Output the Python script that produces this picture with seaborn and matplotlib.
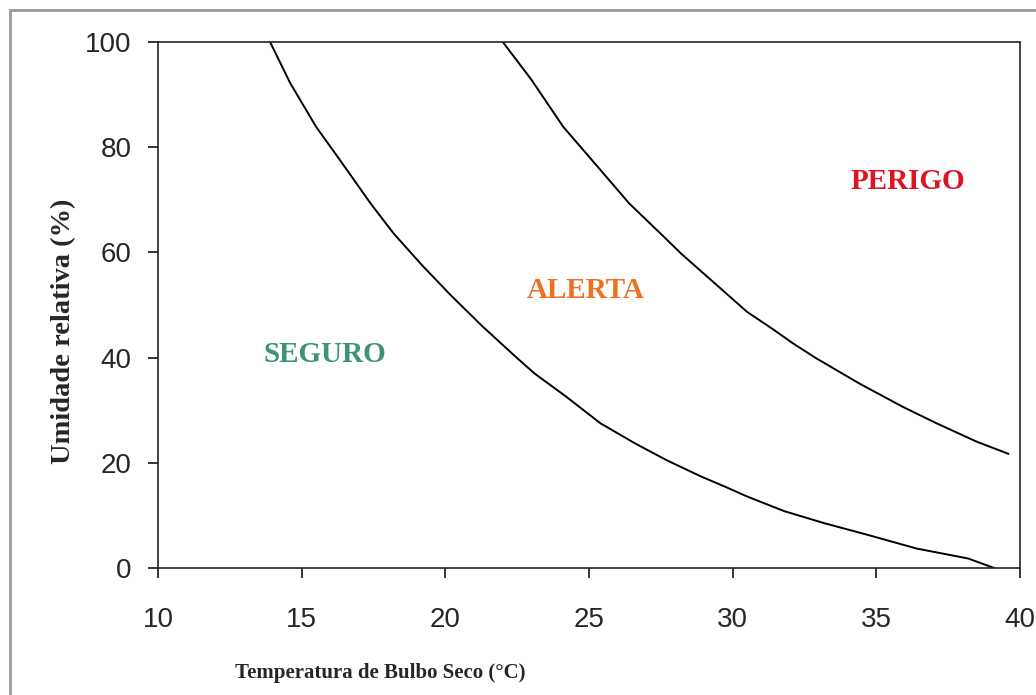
import pandas as pd
import matplotlib.pyplot as plt
import seaborn as sns
from matplotlib.patches import Rectangle

# curva limite SEGURO / ALERTA
temp_seguro = [13.9, 14.6, 15.5, 16.3, 17.4, 18.2, 19.2, 20.2, 21.3, 22.5, 23.1, 24.2,
               25.4, 26.6, 27.7, 28.9, 29.8, 30.5, 31.8, 33.2, 34.7, 36.4, 38.2, 39.1]
ur_seguro = [100, 92.2, 83.9, 77.8, 69.3, 63.6, 57.5, 51.8, 45.9, 39.9, 37.0, 32.6,
             27.5, 23.7, 20.5, 17.4, 15.3, 13.6, 10.8, 8.5, 6.3, 3.7, 1.8, 0]

# curva limite ALERTA / PERIGO
temp_perigo = [22.0, 23.0, 24.1, 25.3, 26.4, 27.6, 28.2, 29.9, 30.5, 31.4, 32.1, 32.9,
               34.4, 35.9, 37.1, 38.5, 39.6]
ur_perigo = [100, 92.8, 83.9, 76.3, 69.3, 63.0, 59.8, 51.6, 48.7, 45.4, 42.7, 39.9,
             35.1, 30.7, 27.5, 24.0, 21.7]

zonas = ['SEGURO', 'ALERTA', 'PERIGO']
zonas_temp = [15.8, 24.9, 36.1]
zonas_ur = [40.5, 52.7, 73.4]
zonas_cor = ['#3f9370', '#ee7022', '#dc1424']

df1 = pd.DataFrame({'Temp': temp_seguro, 'UR': ur_seguro})
df2 = pd.DataFrame({'Temp': temp_perigo, 'UR': ur_perigo})

sns.set_style("ticks")
plt.rcParams['font.family'] = ['Liberation Sans', 'DejaVu Sans']

fig = plt.figure(figsize=(10.36, 6.95), dpi=100)
ax = fig.add_axes([158 / 1036, 1 - 568 / 695, (1020 - 158) / 1036, (568 - 42) / 695])

sns.lineplot(data=df1, x='Temp', y='UR', color='black', lw=1.4, sort=False, estimator=None, ax=ax)
sns.lineplot(data=df2, x='Temp', y='UR', color='black', lw=1.4, sort=False, estimator=None, ax=ax)

for z, t, u, c in zip(zonas, zonas_temp, zonas_ur, zonas_cor):
    ax.text(t, u, z, color=c, fontsize=21, fontweight='bold', family='Liberation Serif',
            ha='center', va='center')

ax.set_xlim(10, 40)
ax.set_ylim(0, 100)
ax.set_xticks(range(10, 41, 5))
ax.set_yticks(range(0, 101, 20))
ax.tick_params(axis='both', labelsize=20, length=7, width=1.1, color='black', direction='out')
ax.tick_params(axis='x', pad=21)
ax.tick_params(axis='y', pad=12)
for s in ax.spines.values():
    s.set_linewidth(1.2)
    s.set_color('#222222')

ax.set_xlabel('Temperatura de Bulbo Seco (°C)', family='Liberation Serif', fontweight='bold',
              fontsize=15)
ax.set_ylabel('Umidade relativa (%)', family='Liberation Serif', fontweight='bold',
              fontsize=20.5)
ax.xaxis.set_label_coords(0.2575, -0.18)
ax.yaxis.set_label_coords(-0.095, 0.45)

# moldura cinza externa
fig.add_artist(Rectangle((10 / 1036, -0.1), 1.2, 1 - 10 / 695 + 0.1, transform=fig.transFigure,
                         fill=False, edgecolor='#999999', lw=2))

plt.savefig('out.png', dpi=100)
